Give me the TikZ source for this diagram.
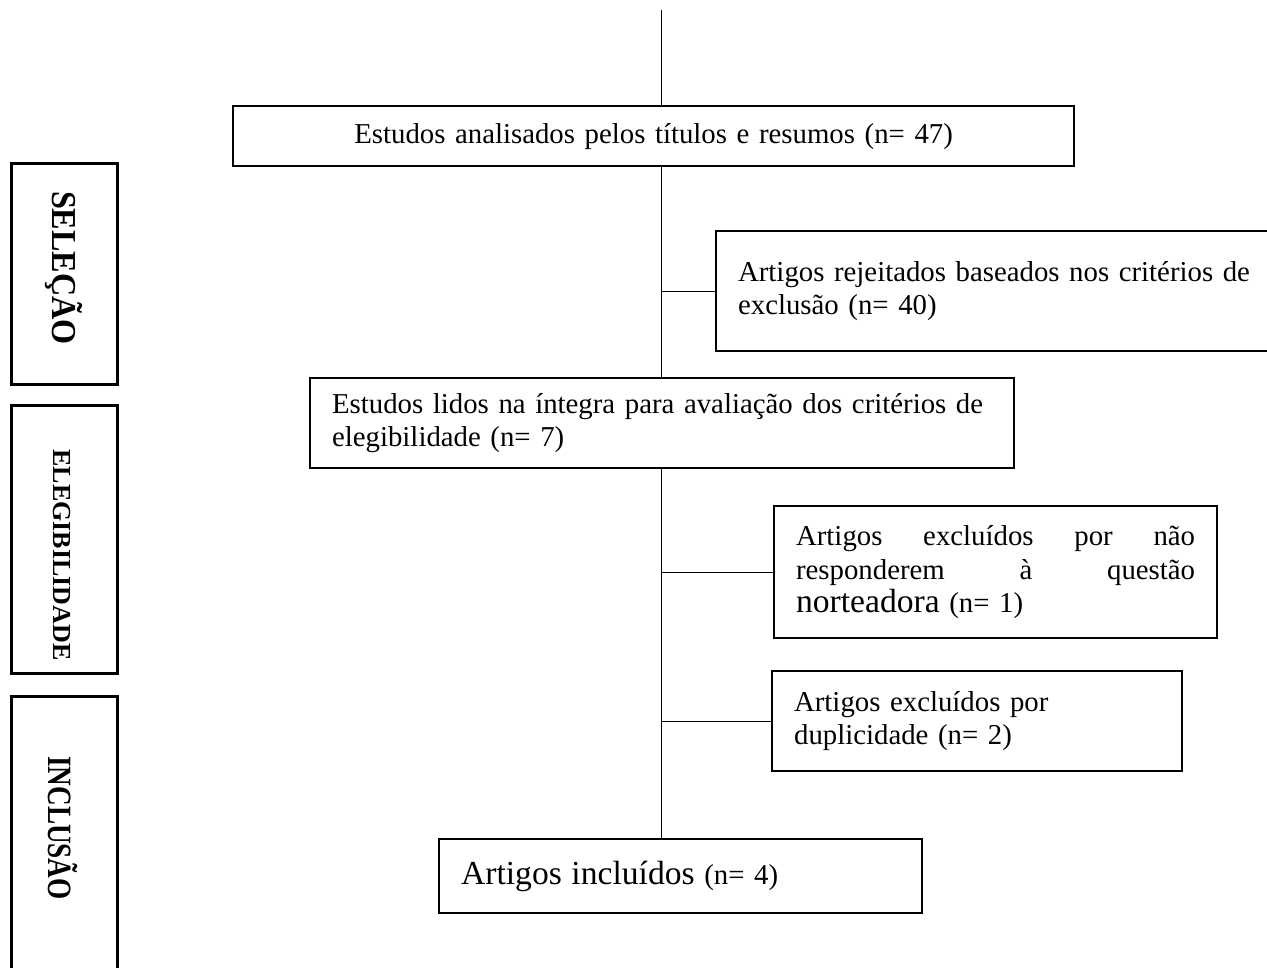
\documentclass[tikz,border=0pt]{standalone}
\usepackage{fontspec}
\setmainfont[WordSpace=0.9]{Liberation Serif}
\usepackage{graphicx}
\begin{document}
\begin{tikzpicture}[x=1pt,y=-1pt]
\tikzset{
  box/.style={draw, line width=2.2pt, anchor=north west, inner xsep=22pt, inner ysep=0pt,
    font=\fontsize{28.8}{33.5}\selectfont},
  leftbox/.style={draw, line width=2.8pt, anchor=north west, minimum width=106pt, inner sep=0pt},
  leftlabel/.style={rotate=-90, inner sep=0pt, font=\bfseries},
  conn/.style={line width=1pt}
}
\useasboundingbox (0,0) rectangle (1267,967);
\clip (0,0) rectangle (1267,967);

% main boxes
\node[box, minimum height=60pt, text width=797pt, align=center] (b1) at (232,105)
  {Estudos analisados pelos títulos e resumos (n= 47)};
\node[box, minimum height=120pt, text width=556pt, align=left] (b2) at (715,230)
  {Artigos rejeitados baseados nos critérios de\\exclusão (n= 40)};
\node[box, minimum height=90pt, text width=660pt, align=left] (b3) at (309,377)
  {\mbox{Estudos lidos na íntegra para avaliação dos critérios de}\\elegibilidade (n= 7)};
\node[box, minimum height=132pt, text width=399pt, align=left] (b4) at (773,505)
  {\makebox[399pt][l]{Artigos\hfill excluídos\hfill por\hfill não}\\
   \makebox[399pt][l]{responderem\hfill à\hfill questão}\\
   {\fontsize{33.6}{36}\selectfont norteadora} (n= 1)};
\node[box, minimum height=100pt, text width=366pt, align=left] (b5) at (771,670)
  {Artigos excluídos por\\duplicidade (n= 2)};
\node[box, minimum height=74pt, text width=439pt, align=left] (b6) at (438,838)
  {{\fontsize{33.6}{36}\selectfont Artigos incluídos} (n= 4)};

% left stage boxes
\node[leftbox, minimum height=221pt] (s1) at (10,162) {};
\node[leftbox, minimum height=268pt] (s2) at (10,404) {};
\node[leftbox, minimum height=290pt] (s3) at (10,695) {};
\node[leftlabel, font=\bfseries\fontsize{35}{36}\selectfont] (l1) at (64,268) {\scalebox{0.92}[1]{SELEÇÃO}};
\node[leftlabel, font=\bfseries\fontsize{26}{30}\selectfont] (l2) at (62,555) {ELEGIBILIDADE};
\node[leftlabel, font=\bfseries\fontsize{34}{36}\selectfont] (l3) at (63,828) {\scalebox{0.8}[1]{INCLUSÃO}};

% connectors
\coordinate (top) at (661,10);
\draw[conn] (top) -- (top |- b1.north);
\draw[conn] (top |- b1.south) -- (top |- b3.north);
\draw[conn] (b3.south -| top) -- (b6.north -| top);
\draw[conn] (top |- b2.west) -- (b2.west);
\draw[conn] (top |- b4.west) -- (b4.west);
\draw[conn] (top |- b5.west) -- (b5.west);
\end{tikzpicture}
\end{document}
